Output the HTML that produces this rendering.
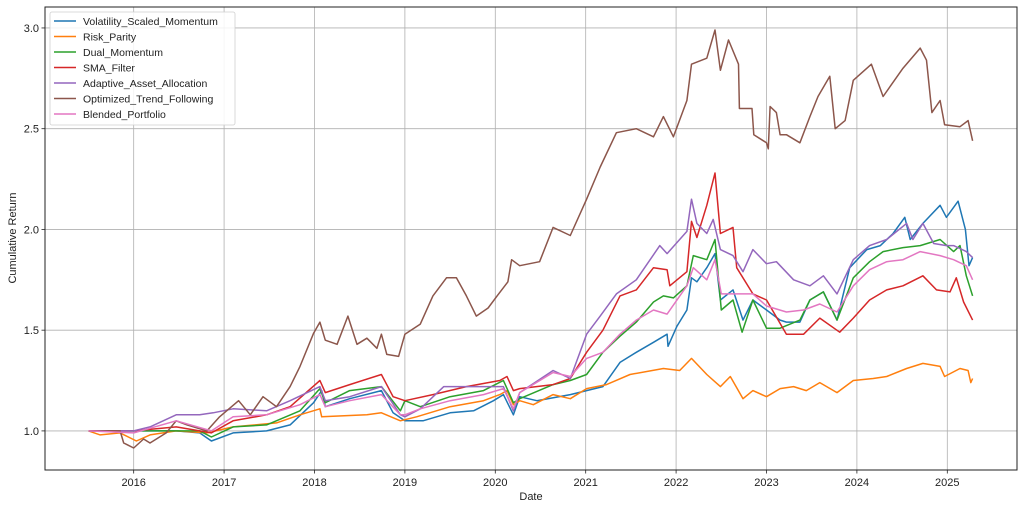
<!DOCTYPE html>
<html><head><meta charset="utf-8"><style>
body{margin:0;background:#fff;}
svg{display:block;font-family:"Liberation Sans","DejaVu Sans",sans-serif;}
</style></head><body>
<svg id="chart" width="1024" height="509" viewBox="0 0 1024 509">
<rect x="0" y="0" width="1024" height="509" fill="#fff"/>
<g id="grid"></g>
<g id="series"></g>
<rect x="45" y="7" width="972" height="463" fill="none" stroke="#222" stroke-width="1"/>
<g id="xticks"></g>
<g id="yticks"></g>
<text x="531" y="500" text-anchor="middle" font-size="11" fill="#222">Date</text>
<text x="16" y="238" text-anchor="middle" font-size="11" fill="#222" transform="rotate(-90 16 238)">Cumulative Return</text>
<g id="legend"></g>
</svg>
<script>
const xTickYears=[2016,2017,2018,2019,2020,2021,2022,2023,2024,2025];
const yTickVals=[1.0,1.5,2.0,2.5,3.0];
const seriesNames=["Volatility_Scaled_Momentum","Risk_Parity","Dual_Momentum","SMA_Filter","Adaptive_Asset_Allocation","Optimized_Trend_Following","Blended_Portfolio"];
const seriesColors=["#1f77b4","#ff7f0e","#2ca02c","#d62728","#9467bd","#8c564b","#e377c2"];

const vsmDates=[2015.5,2016.47,2016.73,2016.86,2017.10,2017.47,2017.73,2017.99,2018.08,2018.12,2018.39,2018.74,2018.87,2019.0,2019.2,2019.5,2019.76,2019.98,2020.09,2020.2,2020.27,2020.46,2020.83,2021.01,2021.19,2021.38,2021.56,2021.75,2021.90,2021.91,2022.01,2022.12,2022.17,2022.23,2022.34,2022.43,2022.49,2022.63,2022.74,2022.85,2023.0,2023.15,2023.22,2023.37,2023.48,2023.63,2023.78,2023.92,2024.11,2024.26,2024.40,2024.53,2024.59,2024.73,2024.92,2024.99,2025.12,2025.20,2025.24,2025.28];
const vsmVals=[1.0,1.0,0.99,0.95,0.99,1.0,1.03,1.14,1.2,1.12,1.16,1.2,1.09,1.05,1.05,1.09,1.1,1.15,1.18,1.08,1.17,1.15,1.18,1.2,1.22,1.34,1.39,1.44,1.48,1.42,1.52,1.6,1.76,1.74,1.81,1.88,1.65,1.7,1.55,1.65,1.6,1.55,1.54,1.54,1.65,1.69,1.55,1.81,1.9,1.92,1.98,2.06,1.95,2.03,2.12,2.06,2.14,2.0,1.82,1.86];

const rpDates=[2015.5,2015.63,2015.85,2016.03,2016.18,2016.47,2016.81,2017.10,2017.58,2017.84,2018.06,2018.08,2018.58,2018.74,2018.95,2019.13,2019.5,2019.87,2020.05,2020.13,2020.2,2020.27,2020.42,2020.64,2020.83,2021.01,2021.23,2021.49,2021.86,2022.04,2022.17,2022.34,2022.49,2022.60,2022.74,2022.85,2023.0,2023.15,2023.30,2023.44,2023.59,2023.78,2023.96,2024.18,2024.33,2024.55,2024.73,2024.92,2024.97,2025.14,2025.23,2025.26,2025.28];
const rpVals=[1.0,0.98,0.99,0.95,0.98,1.0,0.99,1.02,1.04,1.08,1.11,1.07,1.08,1.09,1.05,1.07,1.12,1.15,1.18,1.2,1.13,1.15,1.13,1.18,1.16,1.21,1.23,1.28,1.31,1.3,1.36,1.28,1.22,1.27,1.16,1.2,1.17,1.21,1.22,1.2,1.24,1.19,1.25,1.26,1.27,1.31,1.335,1.32,1.27,1.31,1.3,1.24,1.26];

const dmDates=[2015.5,2016.47,2016.73,2016.86,2017.10,2017.47,2017.84,2018.06,2018.12,2018.39,2018.74,2018.95,2019.0,2019.17,2019.5,2019.87,2020.09,2020.2,2020.27,2020.64,2020.83,2021.01,2021.19,2021.38,2021.56,2021.75,2021.86,2021.97,2022.12,2022.19,2022.34,2022.43,2022.50,2022.63,2022.73,2022.85,2023.0,2023.15,2023.37,2023.48,2023.63,2023.78,2023.96,2024.14,2024.29,2024.51,2024.70,2024.92,2025.07,2025.14,2025.21,2025.28];
const dmVals=[1.0,1.0,1.0,0.97,1.02,1.03,1.1,1.21,1.14,1.2,1.22,1.1,1.15,1.12,1.17,1.2,1.25,1.14,1.16,1.23,1.25,1.28,1.39,1.47,1.54,1.64,1.67,1.66,1.72,1.87,1.85,1.95,1.6,1.65,1.49,1.65,1.51,1.51,1.55,1.65,1.69,1.55,1.76,1.84,1.89,1.91,1.92,1.95,1.89,1.92,1.77,1.67];

const smaDates=[2015.5,2016.0,2016.47,2016.86,2017.10,2017.47,2017.73,2018.06,2018.12,2018.39,2018.74,2018.87,2019.0,2019.31,2019.68,2020.05,2020.13,2020.2,2020.27,2020.64,2020.83,2021.01,2021.19,2021.38,2021.56,2021.75,2021.90,2021.93,2022.12,2022.17,2022.23,2022.34,2022.43,2022.49,2022.63,2022.67,2022.85,2023.0,2023.22,2023.41,2023.59,2023.81,2023.96,2024.14,2024.33,2024.51,2024.73,2024.88,2025.03,2025.10,2025.18,2025.28];
const smaVals=[1.0,1.0,1.02,0.99,1.05,1.08,1.12,1.25,1.19,1.23,1.28,1.17,1.15,1.18,1.22,1.25,1.27,1.2,1.21,1.23,1.26,1.39,1.5,1.67,1.7,1.81,1.8,1.72,1.79,2.04,1.96,2.12,2.28,1.98,2.01,1.81,1.68,1.65,1.48,1.48,1.56,1.49,1.56,1.65,1.7,1.72,1.77,1.7,1.69,1.76,1.64,1.55];

const aaaDates=[2015.5,2016.0,2016.18,2016.47,2016.73,2016.88,2017.10,2017.47,2017.73,2018.06,2018.12,2018.39,2018.74,2018.95,2019.0,2019.17,2019.43,2019.87,2020.09,2020.2,2020.27,2020.64,2020.83,2021.01,2021.16,2021.34,2021.56,2021.82,2021.90,2022.12,2022.17,2022.23,2022.34,2022.41,2022.49,2022.63,2022.74,2022.85,2023.0,2023.11,2023.30,2023.48,2023.63,2023.78,2023.96,2024.14,2024.33,2024.55,2024.62,2024.73,2024.85,2024.99,2025.07,2025.21,2025.28];
const aaaVals=[1.0,1.0,1.02,1.08,1.08,1.09,1.11,1.1,1.15,1.22,1.15,1.17,1.22,1.08,1.07,1.11,1.22,1.22,1.22,1.1,1.19,1.3,1.26,1.48,1.57,1.68,1.75,1.92,1.88,1.99,2.15,2.03,1.98,2.05,1.9,1.87,1.79,1.9,1.83,1.84,1.75,1.72,1.77,1.68,1.85,1.92,1.95,2.03,1.95,2.03,1.93,1.92,1.92,1.89,1.86];

const otfDates=[2015.5,2015.85,2015.89,2016.0,2016.11,2016.18,2016.36,2016.47,2016.59,2016.81,2016.95,2017.16,2017.29,2017.43,2017.58,2017.73,2017.84,2017.99,2018.06,2018.12,2018.25,2018.37,2018.47,2018.58,2018.69,2018.74,2018.80,2018.93,2019.0,2019.17,2019.31,2019.46,2019.57,2019.68,2019.79,2019.92,2020.02,2020.14,2020.18,2020.27,2020.49,2020.64,2020.83,2021.01,2021.16,2021.34,2021.56,2021.75,2021.86,2021.97,2022.12,2022.17,2022.34,2022.43,2022.49,2022.58,2022.69,2022.70,2022.84,2022.86,2023.0,2023.02,2023.04,2023.11,2023.15,2023.22,2023.37,2023.48,2023.57,2023.70,2023.76,2023.87,2023.96,2024.16,2024.29,2024.51,2024.70,2024.77,2024.83,2024.92,2024.97,2025.14,2025.23,2025.28];
const otfVals=[1.0,1.0,0.94,0.915,0.96,0.94,0.99,1.05,1.03,1.0,1.07,1.15,1.08,1.17,1.12,1.22,1.32,1.485,1.54,1.45,1.43,1.57,1.43,1.46,1.41,1.48,1.38,1.37,1.48,1.53,1.67,1.76,1.76,1.67,1.57,1.61,1.67,1.74,1.85,1.82,1.84,2.01,1.97,2.15,2.31,2.48,2.5,2.46,2.56,2.46,2.64,2.82,2.85,2.99,2.79,2.94,2.82,2.6,2.6,2.47,2.43,2.4,2.61,2.58,2.47,2.47,2.43,2.56,2.66,2.76,2.5,2.54,2.74,2.82,2.66,2.8,2.9,2.84,2.58,2.64,2.52,2.51,2.54,2.44];

const bpDates=[2015.5,2016.0,2016.47,2016.86,2017.10,2017.47,2017.84,2018.06,2018.12,2018.39,2018.74,2018.95,2019.0,2019.17,2019.5,2019.87,2020.09,2020.2,2020.27,2020.64,2020.83,2021.01,2021.19,2021.38,2021.56,2021.75,2021.90,2022.12,2022.19,2022.34,2022.43,2022.50,2022.63,2022.85,2023.0,2023.22,2023.41,2023.59,2023.78,2023.96,2024.14,2024.33,2024.51,2024.70,2024.92,2025.07,2025.21,2025.28];
const bpVals=[1.0,0.99,1.05,1.0,1.07,1.08,1.13,1.18,1.12,1.15,1.18,1.08,1.08,1.11,1.15,1.18,1.21,1.11,1.19,1.29,1.27,1.36,1.39,1.48,1.55,1.6,1.58,1.72,1.81,1.75,1.85,1.68,1.68,1.68,1.62,1.59,1.6,1.63,1.59,1.72,1.8,1.84,1.85,1.89,1.87,1.85,1.82,1.75];

const NS="http://www.w3.org/2000/svg";
const L=45,R=1017,T=7,B=470;
const X0=2015.019,X1=2025.771,Y0=0.806,Y1=3.104;
function xs(v){return L+(v-X0)/(X1-X0)*(R-L);}
function ys(v){return B-(v-Y0)/(Y1-Y0)*(B-T);}
function mk(tag,attrs,parent){const e=document.createElementNS(NS,tag);for(const k in attrs)e.setAttribute(k,attrs[k]);parent.appendChild(e);return e;}

const grid=document.getElementById('grid');
const xt=document.getElementById('xticks');
const yt=document.getElementById('yticks');
xTickYears.forEach(yr=>{
  const x=xs(yr);
  const g=mk('line',{x1:x,x2:x,y1:T,y2:B,stroke:'#b0b0b0','stroke-width':0.8},grid);
  
  
  const tk=mk('line',{x1:x,x2:x,y1:B,y2:B+3.5,stroke:'#222','stroke-width':0.8},xt);
  
  
  const t=mk('text',{x:x,y:B+16,'text-anchor':'middle','font-size':11,fill:'#222'},xt);
  t.textContent=String(yr);
  
  
});
yTickVals.forEach(v=>{
  const y=ys(v);
  const g=mk('line',{x1:L,x2:R,y1:y,y2:y,stroke:'#b0b0b0','stroke-width':0.8},grid);
  
  
  const tk=mk('line',{x1:L-3.5,x2:L,y1:y,y2:y,stroke:'#222','stroke-width':0.8},yt);
  
  
  const t=mk('text',{x:L-6,y:y+4,'text-anchor':'end','font-size':11,fill:'#222'},yt);
  t.textContent=v.toFixed(1);
  
  
});

const allDates=[vsmDates,rpDates,dmDates,smaDates,aaaDates,otfDates,bpDates];
const allVals=[vsmVals,rpVals,dmVals,smaVals,aaaVals,otfVals,bpVals];
const sg=document.getElementById('series');
allDates.forEach((d,i)=>{
  const pts=d.map((dt,j)=>xs(dt).toFixed(1)+','+ys(allVals[i][j]).toFixed(1)).join(' ');
  const p=mk('polyline',{points:pts,fill:'none',stroke:seriesColors[i],'stroke-width':1.5,'stroke-linejoin':'round'},sg);
  
  
});

const lg=document.getElementById('legend');
const box=mk('rect',{x:50,y:12,width:185,height:113,rx:2,fill:'#fff','fill-opacity':0.85,stroke:'#d0d0d0','stroke-width':0.8},lg);


seriesNames.forEach((n,i)=>{
  const y=21+i*15.5;
  const g=mk('g',{},lg);
  
  
  mk('line',{x1:54,x2:76,y1:y,y2:y,stroke:seriesColors[i],'stroke-width':1.5},g);
  const t=mk('text',{x:83,y:y+4,'font-size':10.5,fill:'#222'},g);
  t.textContent=n;
});
</script>
</body></html>
